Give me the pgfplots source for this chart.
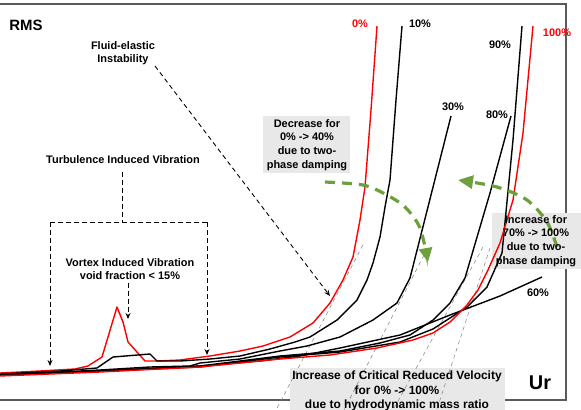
\documentclass[border=0pt]{standalone}
\usepackage{pgfplots}
\pgfplotsset{compat=1.18}
\usepackage{fontspec}
\setmainfont{Liberation Sans}
\usetikzlibrary{arrows.meta}
\definecolor{fgreen}{RGB}{108,160,58}
\definecolor{boxgray}{RGB}{232,232,232}
\definecolor{framegray}{RGB}{90,90,90}
\tikzset{
  curve/.style={line width=1.4bp, line join=round},
  tang/.style={gray, line width=0.5bp, dash pattern=on 4bp off 3.5bp},
  guide/.style={black, line width=0.9bp, dash pattern=on 4.5bp off 3.5bp},
  gflow/.style={fgreen, line width=3.2bp, dash pattern=on 10bp off 7bp},
  lab/.style={font=\bfseries\fontsize{11}{13.7}\selectfont, inner sep=0pt, align=center},
}
\begin{document}
\begin{tikzpicture}
\begin{axis}[
  width=581bp, height=410bp, scale only axis,
  xmin=0, xmax=581, ymin=0, ymax=410, y dir=reverse,
  axis lines=none, clip=false,
]
% frame (open on the left)
\draw[framegray, line width=1.2bp] (0,4) -- (566,4) -- (566,400) -- (0,400);

% shaded text boxes
\fill[boxgray] (263,116) rectangle (350,173);
\fill[boxgray] (492,213) rectangle (581,269);
\fill[boxgray] (290,368) rectangle (505,416);

% tangents marking the critical reduced velocities
\draw[tang] (363,245) -- (275,412);
\draw[tang] (424,255) -- (343,412);
\draw[tang] (483,247) -- (392,412);
\draw[tang] (490,248) -- (436,412);

% response curves, 0% ... 100% void fraction
\addplot[curve, red] coordinates {(0,373) (40,371) (75,369) (88,366) (102,357) (117,307) (123,322) (128,342) (145,361) (157,361) (180,360) (210,356) (240,351) (263,346) (290,337) (313,323) (330,303) (343,280) (353,257) (360,220) (365,187) (371,110) (377,26)};
\addplot[curve, black] coordinates {(0,374) (60,371) (97,368) (113,357) (150,354) (157,361) (180,361) (210,359) (240,356) (270,349) (295,342) (310,337) (337,320) (357,300) (367,280) (373,263) (380,237) (385,207) (390,180) (396,100) (402,26)};
\addplot[curve, black] coordinates {(0,375) (100,370) (150,367) (190,366) (200,363) (240,359) (280,351) (307,346) (340,337) (373,320) (397,303) (410,278) (451,116)};
\addplot[curve, black] coordinates {(0,375) (100,371) (200,366) (260,361) (300,356) (340,348) (400,335) (450,315) (500,296) (542,277)};
\addplot[curve, black] coordinates {(0,375) (100,371) (200,366) (280,356) (340,351) (380,343) (410,335) (433,320) (450,303) (465,278) (490,193) (511,116)};
\addplot[curve, black] coordinates {(0,375) (100,371) (200,367) (280,357) (340,352) (400,342) (433,329) (467,307) (487,287) (502,253) (513,140) (522,26)};
\addplot[curve, red] coordinates {(0,376) (100,372) (200,367) (280,359) (330,355) (377,348) (413,340) (433,333) (450,322) (467,305) (478,290) (488,270) (500,243) (513,200) (523,133) (533,26)};

% trend arrows
\addplot[gflow, smooth, -{Triangle[length=14bp,width=13bp]}] coordinates {(325,182) (363,185) (385,194) (405,207) (420,228) (428,262)};
\addplot[gflow, smooth, -{Triangle[length=15bp,width=13bp]}] coordinates {(557,247) (547,222) (527,200) (497,187) (458,180)};

% mechanism annotations
\draw[guide, -{Stealth[length=6bp,width=5bp]}] (155,66) -- (330,296);
\draw[guide] (122,172) -- (122,222);
\draw[guide] (50,222) -- (207,222);
\draw[guide, -{Stealth[length=6bp,width=5bp]}] (50,222) -- (50,366);
\draw[guide, -{Stealth[length=6bp,width=5bp]}] (207,222) -- (207,355);
\draw[guide, -{Stealth[length=6bp,width=5bp]}] (128,283) -- (128,319);

% texts
\node[lab, font=\bfseries\fontsize{15}{17}\selectfont] at (26,25) {RMS};
\node[lab, font=\bfseries\fontsize{20}{22}\selectfont] at (540,383) {Ur};
\node[lab] at (123,53) {Fluid-elastic\\Instability};
\node[lab] at (123,160) {Turbulence Induced Vibration};
\node[lab, font=\bfseries\fontsize{11}{13}\selectfont] at (130,269.5) {Vortex Induced Vibration\\void fraction < 15\%};
\node[lab] at (307,145) {Decrease for\\0\% -> 40\%\\due to two-\\phase damping};
\node[lab] at (536,241) {Increase for\\70\% -> 100\%\\due to two-\\phase damping};
\node[lab, font=\bfseries\fontsize{12}{14.5}\selectfont] at (397,391) {Increase of Critical Reduced Velocity\\for 0\% -> 100\%\\due to hydrodynamic mass ratio};

\node[lab, red] at (360,24) {0\%};
\node[lab] at (420,24) {10\%};
\node[lab, red] at (557,33) {100\%};
\node[lab] at (500,45) {90\%};
\node[lab] at (453,107) {30\%};
\node[lab] at (497,115) {80\%};
\node[lab] at (538,293) {60\%};
\end{axis}
\pgfresetboundingbox
\path (current axis.south west) rectangle (current axis.north east);
\end{tikzpicture}
\end{document}
